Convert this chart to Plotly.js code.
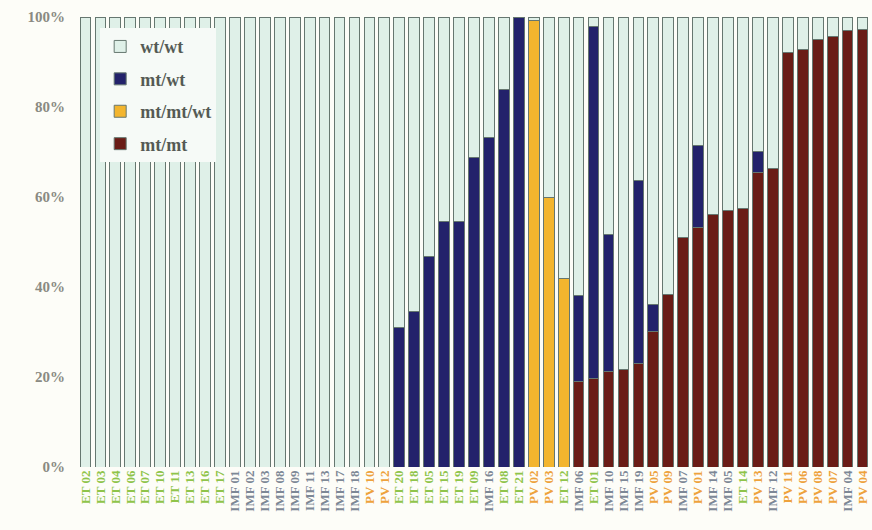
<!DOCTYPE html>
<html>
<head>
<meta charset="utf-8">
<script src="https://cdn.plot.ly/plotly-3.0.1.min.js"></script>
<style>html,body{margin:0;padding:0;background:#fdfdf8;}#chart{width:872px;height:530px;}</style>
</head>
<body>
<div id="chart"></div>
<script>
// Sample names (x-axis categories, left to right)
const samples = [
  "ET 02","ET 03","ET 04","ET 06","ET 07","ET 10","ET 11","ET 13","ET 16","ET 17",
  "IMF 01","IMF 02","IMF 03","IMF 08","IMF 09","IMF 11","IMF 13","IMF 17","IMF 18",
  "PV 10","PV 12",
  "ET 20","ET 18","ET 05","ET 15","ET 19","ET 09","IMF 16","ET 08","ET 21",
  "PV 02","PV 03","ET 12","IMF 06","ET 01","IMF 10","IMF 15","IMF 19","PV 05","PV 09",
  "IMF 07","PV 01","IMF 14","IMF 05","ET 14","PV 13","IMF 12","PV 11","PV 06","PV 08",
  "PV 07","IMF 04","PV 04"
];

// Percent of each genotype per sample
const mtmt = [
  0,0,0,0,0,0,0,0,0,0,
  0,0,0,0,0,0,0,0,0,
  0,0,
  0,0,0,0,0,0,0,0,0,
  0,0,0,19,19.7,21.2,21.6,23,30.1,38.4,
  51,53.2,56.1,56.9,57.4,65.4,66.3,92.1,92.7,95,
  95.6,97,97.3
];
const mtmtwt = [
  0,0,0,0,0,0,0,0,0,0,
  0,0,0,0,0,0,0,0,0,
  0,0,
  0,0,0,0,0,0,0,0,0,
  99.2,60,42,0,0,0,0,0,0,0,
  0,0,0,0,0,0,0,0,0,0,
  0,0,0
];
const mtwt = [
  0,0,0,0,0,0,0,0,0,0,
  0,0,0,0,0,0,0,0,0,
  0,0,
  30.9,34.5,46.7,54.5,54.5,68.8,73.2,84,100,
  0,0,0,19.2,78.1,30.4,0,40.6,6,0,
  0,18.2,0,0,0,4.8,0,0,0,0,
  0,0,0
];
const wtwt = samples.map((s, i) => Math.max(0, 100 - mtmt[i] - mtmtwt[i] - mtwt[i]));

const groupColors = {ET: "#8fc44a", IMF: "#7d8896", PV: "#eea23c"};
const tickText = samples.map(s => {
  const g = s.split(" ")[0];
  return '<span style="color:' + groupColors[g] + '">' + s + '</span>';
});

const outline = {color: "#667770", width: 1};
const traces = [
  {name: "mt/mt", y: mtmt, legendrank: 4, marker: {color: "#6a1c16", line: outline}},
  {name: "mt/mt/wt", y: mtmtwt, legendrank: 3, marker: {color: "#f3b52e", line: outline}},
  {name: "mt/wt", y: mtwt, legendrank: 2, marker: {color: "#23226b", line: outline}},
  {name: "wt/wt", y: wtwt, legendrank: 1, marker: {color: "#dff0e8", line: outline}}
].map(t => Object.assign({type: "bar", x: samples, legendgroup: t.name}, t));

const layout = {
  width: 872, height: 530,
  margin: {l: 78, r: 2, t: 17, b: 63},
  paper_bgcolor: "#fdfdf8",
  plot_bgcolor: "#fdfdf8",
  barmode: "stack",
  bargap: 0.28,
  font: {family: "Liberation Serif, serif", color: "#7a7a72"},
  showlegend: true,
  legend: {
    x: 0.028, y: 0.975, xanchor: "left", yanchor: "top",
    traceorder: "grouped",
    bgcolor: "#f6faf7",
    font: {family: "Liberation Serif, serif", size: 18, color: "#555a55", weight: "bold"},
    itemwidth: 30, tracegroupgap: 6,
    borderwidth: 0
  },
  xaxis: {
    type: "category",
    tickmode: "array", tickvals: samples, ticktext: tickText,
    tickangle: -90,
    tickfont: {family: "Liberation Serif, serif", size: 13, weight: "bold"},
    showgrid: false, zeroline: false, showline: false, ticks: ""
  },
  yaxis: {
    range: [0, 100],
    tickvals: [0, 20, 40, 60, 80, 100],
    ticktext: ["0%", "20%", "40%", "60%", "80%", "100%"],
    tickfont: {family: "Liberation Serif, serif", size: 15, color: "#8a8a82", weight: "bold"},
    ticklabelstandoff: 12,
    showgrid: false, zeroline: false, showline: false, ticks: ""
  }
};

Plotly.newPlot("chart", traces, layout, {displayModeBar: false, staticPlot: true});
</script>
</body>
</html>
